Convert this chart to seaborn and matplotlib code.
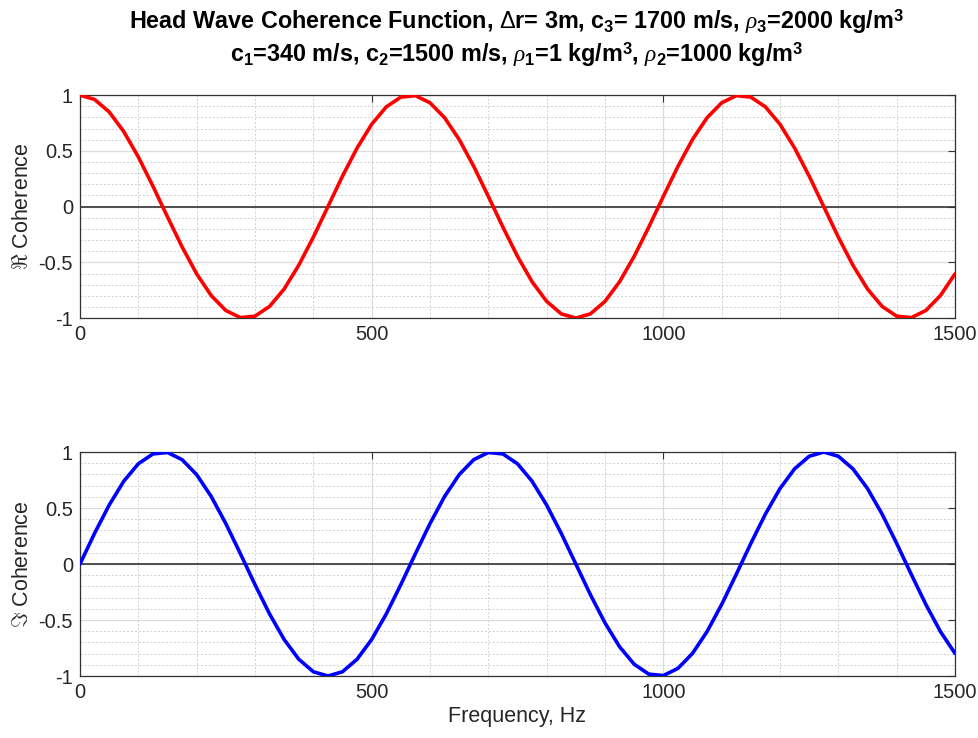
import numpy as np
import matplotlib
matplotlib.use("Agg")
import matplotlib.pyplot as plt
import seaborn as sns
import pandas as pd
from matplotlib.ticker import MultipleLocator

freq = list(range(0, 1501, 25))
real_coh = [1.00, 0.962, 0.850, 0.674, 0.446, 0.184, -0.092, -0.361, -0.603, -0.798,
            -0.932, -0.996, -0.983, -0.895, -0.739, -0.526, -0.274, 0.000, 0.274, 0.526,
            0.739, 0.895, 0.983, 0.996, 0.932, 0.798, 0.603, 0.361, 0.092, -0.184,
            -0.446, -0.674, -0.850, -0.962, -1.000, -0.962, -0.850, -0.674, -0.446, -0.184,
            0.092, 0.361, 0.603, 0.798, 0.932, 0.996, 0.983, 0.895, 0.739, 0.526,
            0.274, 0.000, -0.274, -0.526, -0.739, -0.895, -0.983, -0.996, -0.932, -0.798,
            -0.603]
imag_coh = [0.00, 0.274, 0.526, 0.739, 0.895, 0.983, 0.996, 0.932, 0.798, 0.603,
            0.361, 0.092, -0.184, -0.446, -0.674, -0.850, -0.962, -1.000, -0.962, -0.850,
            -0.674, -0.446, -0.184, 0.092, 0.361, 0.603, 0.798, 0.932, 0.996, 0.983,
            0.895, 0.739, 0.526, 0.274, 0.000, -0.274, -0.526, -0.739, -0.895, -0.983,
            -0.996, -0.932, -0.798, -0.603, -0.361, -0.092, 0.184, 0.446, 0.674, 0.850,
            0.962, 1.000, 0.962, 0.850, 0.674, 0.446, 0.184, -0.092, -0.361, -0.603,
            -0.798]
x_ticks = [0, 500, 1000, 1500]
y_ticks = [-1, -0.5, 0, 0.5, 1]
y_ticklabels = ["-1", "-0.5", "0", "0.5", "1"]

sns.set_style("white")
plt.rcParams['font.family'] = ['Liberation Sans', 'DejaVu Sans']
plt.rcParams['mathtext.fontset'] = 'custom'
plt.rcParams['mathtext.rm'] = 'Liberation Sans'
plt.rcParams['mathtext.it'] = 'Liberation Serif:italic'
plt.rcParams['mathtext.bf'] = 'Liberation Sans:bold'
plt.rcParams['mathtext.fallback'] = 'cm'

df = pd.DataFrame({"freq": freq, "real": real_coh, "imag": imag_coh})

fig = plt.figure(figsize=(9.79, 7.38), dpi=100)
ax1 = fig.add_axes([0.0817, 0.569, 0.8938, 0.302])
ax2 = fig.add_axes([0.0817, 0.084, 0.8938, 0.3035])

txtc = '#262626'
for ax, col, color, lab in [(ax1, "real", "red", r"$\Re$ Coherence"),
                             (ax2, "imag", "blue", r"$\Im$ Coherence")]:
    ax.axhline(0, color='#333333', lw=1.2, zorder=2)
    sns.lineplot(data=df, x="freq", y=col, ax=ax, color=color, lw=2.6, zorder=3)
    ax.set_xlim(0, 1500)
    ax.set_ylim(-1, 1)
    ax.set_xticks(x_ticks)
    ax.set_xticklabels([str(t) for t in x_ticks])
    ax.set_yticks(y_ticks)
    ax.set_yticklabels(y_ticklabels)
    ax.xaxis.set_minor_locator(MultipleLocator(100))
    ax.yaxis.set_minor_locator(MultipleLocator(0.1))
    ax.grid(which='major', color='#dcdcdc', lw=0.9, ls='-', zorder=0)
    ax.grid(which='minor', color='#d0d0d0', lw=0.7, ls=(0, (2, 2)), zorder=0)
    ax.tick_params(which='major', direction='in', length=5, top=True, right=True,
                   labelsize=14.5, colors='#333333', labelcolor=txtc, width=0.8, pad=5)
    ax.tick_params(which='minor', length=0)
    for s in ax.spines.values():
        s.set_color('#333333')
        s.set_linewidth(0.9)
    ax.set_ylabel(lab, fontsize=15.5, color=txtc, labelpad=4)
    ax.set_xlabel("")
    ax.set_axisbelow(True)

ax2.set_xlabel("Frequency, Hz", fontsize=15.5, color=txtc, labelpad=3)

fig.text(0.528, 0.971,
         r"Head Wave Coherence Function, $\Delta$r= 3m, c$_\mathbf{3}$= 1700 m/s, $\rho_\mathbf{3}$=2000 kg/m$^\mathbf{3}$",
         ha='center', va='center', fontsize=16.8, fontweight='bold', color='black')
fig.text(0.528, 0.926,
         r"c$_\mathbf{1}$=340 m/s, c$_\mathbf{2}$=1500 m/s, $\rho_\mathbf{1}$=1 kg/m$^\mathbf{3}$, $\rho_\mathbf{2}$=1000 kg/m$^\mathbf{3}$",
         ha='center', va='center', fontsize=16.8, fontweight='bold', color='black')

fig.savefig("out.png", dpi=100)
